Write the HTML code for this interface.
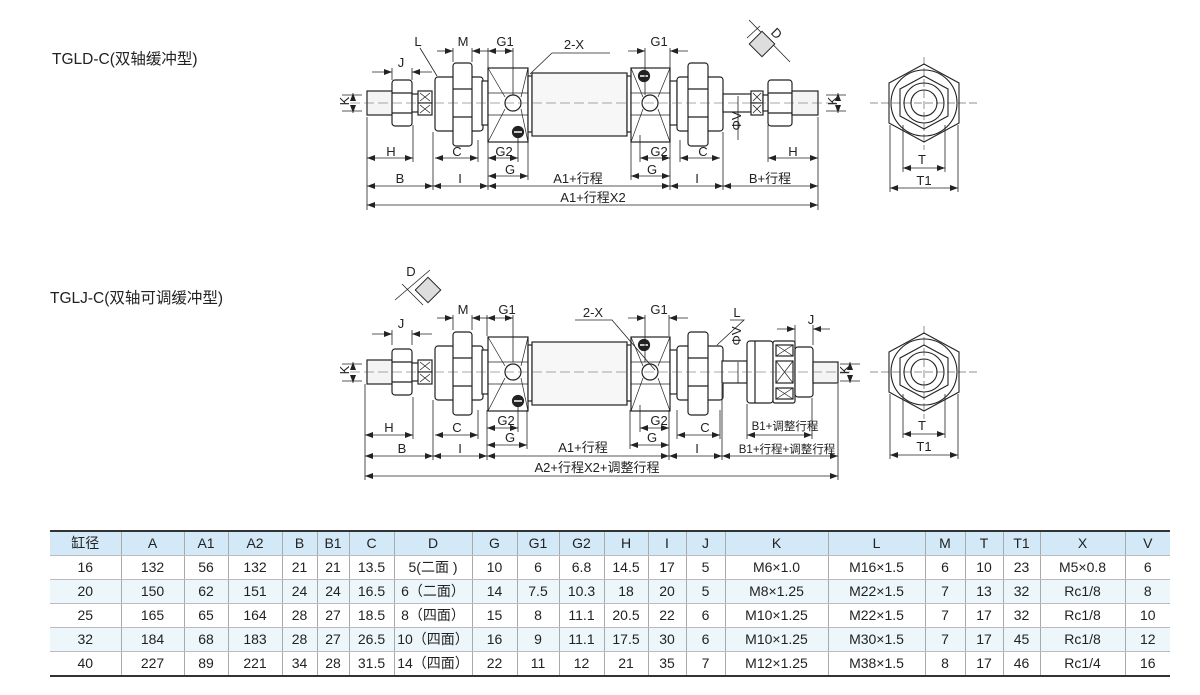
<!DOCTYPE html>
<html><head><meta charset="utf-8"><style>
body{margin:0;background:#fff;width:1200px;height:695px;overflow:hidden;position:relative;font-family:"Liberation Sans","Noto Sans CJK SC",sans-serif}
svg{position:absolute;left:0;top:0}
table{position:absolute;left:50px;top:530px;border-collapse:collapse;table-layout:fixed;width:1120px;font-size:14px;color:#222}
td{height:23px;line-height:23px;padding:0;text-align:center;vertical-align:middle;border-left:1px solid #aaa;border-bottom:1px solid #bbb;white-space:nowrap;overflow:hidden}
td:first-child{border-left:none}
tr.h td{background:#d3e9f7;border-top:2px solid #333;height:23px}
tr.a td{background:#edf6fb}
tr.last td{border-bottom:2px solid #333}
</style></head><body>
<svg width="1200" height="695" viewBox="0 0 1200 695" font-family="Liberation Sans, Noto Sans CJK SC, sans-serif" font-size="13" fill="#222">
<defs>
<marker id="ar" markerWidth="8" markerHeight="6" refX="8" refY="3" orient="auto-start-reverse" markerUnits="userSpaceOnUse"><path d="M0,0 L8,3 L0,6z" fill="#222"/></marker>
<g id="mid" stroke="#222" stroke-width="1.2" fill="#fff">
<rect x="367" y="-12" width="28" height="24" fill="#f4f4f4"/>
<rect x="392" y="-23" width="20" height="46" rx="3"/><line x1="392" y1="-10" x2="412" y2="-10"/><line x1="392" y1="10" x2="412" y2="10"/>
<rect x="412" y="-9" width="7" height="18"/>
<rect x="418" y="-12" width="14" height="12"/><rect x="418" y="0" width="14" height="12"/>
<path d="M420,-10 L430,-2 M430,-10 L420,-2 M420,2 L430,10 M430,2 L420,10" stroke-width="0.8"/>
<rect x="435" y="-26" width="48" height="54" rx="3"/>
<rect x="453" y="-40" width="19" height="83" rx="3"/><line x1="453" y1="-14" x2="472" y2="-14"/><line x1="453" y1="14" x2="472" y2="14"/>
<rect x="482" y="-22" width="6" height="44"/>
<rect x="488" y="-35" width="40" height="74"/>
<path d="M488,-35 L505,-6 M528,-35 L521,-6 M488,39 L505,6 M528,39 L521,6 M488,-10 L528,-10 M488,12 L528,12" stroke-width="0.7"/>
<circle cx="513" cy="0" r="8"/>
<circle cx="518" cy="29" r="5.5" fill="#222"/><line x1="514" y1="29" x2="522" y2="29" stroke="#fff" stroke-width="1.5"/>
<rect x="528" y="-27" width="4" height="56"/>
<rect x="532" y="-30" width="95" height="63" fill="#f7f7f7"/>
<rect x="627" y="-27" width="4" height="56"/>
<rect x="631" y="-35" width="39" height="74"/>
<path d="M631,-35 L643,-6 M670,-35 L658,-6 M631,39 L643,6 M670,39 L658,6 M631,-10 L670,-10 M631,12 L670,12" stroke-width="0.7"/>
<circle cx="650" cy="0" r="8"/>
<circle cx="644" cy="-27" r="5.5" fill="#222"/><line x1="640" y1="-27" x2="648" y2="-27" stroke="#fff" stroke-width="1.5"/>
<rect x="670" y="-22" width="7" height="44"/>
<rect x="677" y="-26" width="46" height="54" rx="3"/>
<rect x="688" y="-40" width="20" height="83" rx="3"/><line x1="688" y1="-14" x2="708" y2="-14"/><line x1="688" y1="14" x2="708" y2="14"/>
</g>
<g id="end" stroke="#222" stroke-width="1.1" fill="#fff">
<polygon points="924,-38 959,-19 959,21 924,40 889,21 889,-19"/>
<circle cx="924" cy="1" r="33"/>
<polygon points="924,-26 948,-13 948,14 924,27 900,14 900,-13"/>
<circle cx="924" cy="1" r="20"/><circle cx="924" cy="1" r="13"/>
<path d="M870,1 L980,1 M924,-45 L924,48" stroke-width="0.5" stroke-dasharray="8 3"/>
</g>
</defs>

<text x="52" y="64" font-size="15.5">TGLD-C(双轴缓冲型)</text>
<text x="50" y="303" font-size="15.5">TGLJ-C(双轴可调缓冲型)</text>

<use href="#mid" transform="translate(0,103)"/>
<g stroke="#222" stroke-width="1.2" fill="#fff">
<rect x="723" y="94" width="28" height="18"/>
<rect x="751" y="91" width="12" height="12"/><rect x="751" y="103" width="12" height="12"/>
<path d="M753,93 L761,101 M761,93 L753,101 M753,105 L761,113 M761,105 L753,113" stroke-width="0.8"/>
<rect x="768" y="80" width="24" height="46" rx="3"/><line x1="768" y1="93" x2="792" y2="93"/><line x1="768" y1="113" x2="792" y2="113"/>
<rect x="763" y="95" width="5" height="16"/>
<rect x="792" y="91" width="26" height="24" fill="#f4f4f4"/>
</g>
<line x1="350" y1="103" x2="838" y2="103" stroke="#555" stroke-width="0.6" stroke-dasharray="10 4"/>
<use href="#end" transform="translate(0,102)"/>
<g stroke="#222" stroke-width="0.8" fill="none">
<path d="M367,117 V210 M433,132 V190 M488,142 V190 M528,142 V180 M670,142 V190 M631,142 V180 M723,132 V190 M818,117 V210 M413,125 V162 M478,140 V162 M518,135 V162 M640,135 V162 M680,140 V162 M768,125 V162"/>
<line x1="367" y1="158" x2="413" y2="158" marker-start="url(#ar)" marker-end="url(#ar)"/>
<line x1="435" y1="158" x2="478" y2="158" marker-start="url(#ar)" marker-end="url(#ar)"/>
<line x1="488" y1="158" x2="518" y2="158" marker-start="url(#ar)" marker-end="url(#ar)"/>
<line x1="640" y1="158" x2="670" y2="158" marker-start="url(#ar)" marker-end="url(#ar)"/>
<line x1="680" y1="158" x2="720" y2="158" marker-start="url(#ar)" marker-end="url(#ar)"/>
<line x1="768" y1="158" x2="818" y2="158" marker-start="url(#ar)" marker-end="url(#ar)"/>
<line x1="488" y1="176" x2="528" y2="176" marker-start="url(#ar)" marker-end="url(#ar)"/>
<line x1="631" y1="176" x2="670" y2="176" marker-start="url(#ar)" marker-end="url(#ar)"/>
<line x1="367" y1="186" x2="433" y2="186" marker-start="url(#ar)" marker-end="url(#ar)"/>
<line x1="433" y1="186" x2="488" y2="186" marker-start="url(#ar)" marker-end="url(#ar)"/>
<line x1="488" y1="186" x2="670" y2="186" marker-start="url(#ar)" marker-end="url(#ar)"/>
<line x1="670" y1="186" x2="723" y2="186" marker-start="url(#ar)" marker-end="url(#ar)"/>
<line x1="723" y1="186" x2="818" y2="186" marker-start="url(#ar)" marker-end="url(#ar)"/>
<line x1="367" y1="205" x2="818" y2="205" marker-start="url(#ar)" marker-end="url(#ar)"/>
<path d="M392,68 V80 M412,68 V80 M453,48 V62 M472,48 V62 M488,48 V68 M513,48 V95 M645,48 V95 M670,48 V68"/>
<line x1="372" y1="72" x2="392" y2="72" marker-end="url(#ar)"/><line x1="432" y1="72" x2="412" y2="72" marker-end="url(#ar)"/>
<line x1="437" y1="51" x2="453" y2="51" marker-end="url(#ar)"/><line x1="488" y1="51" x2="472" y2="51" marker-end="url(#ar)"/>
<line x1="488" y1="51" x2="513" y2="51" marker-start="url(#ar)" marker-end="url(#ar)"/>
<line x1="628" y1="51" x2="645" y2="51" marker-end="url(#ar)"/><line x1="688" y1="51" x2="670" y2="51" marker-end="url(#ar)"/>
<path d="M420,48 L437,76 M552,53 L610,53 M552,53 L530,74 M342,95 H362 M342,111 H362 M826,95 H846 M826,111 H846 M738,96 V140"/>
<line x1="353" y1="98" x2="353" y2="93" marker-end="url(#ar)"/><line x1="353" y1="108" x2="353" y2="113" marker-end="url(#ar)"/>
<line x1="838" y1="98" x2="838" y2="93" marker-end="url(#ar)"/><line x1="838" y1="108" x2="838" y2="113" marker-end="url(#ar)"/>
<path d="M749,20 L790,62 M747,38 L760,26"/>
<path d="M903,125 V172 M945,125 V172 M890,125 V192 M958,125 V192"/>
<line x1="903" y1="168" x2="945" y2="168" marker-start="url(#ar)" marker-end="url(#ar)"/>
<line x1="890" y1="188" x2="958" y2="188" marker-start="url(#ar)" marker-end="url(#ar)"/>
</g>
<rect x="753" y="35" width="18" height="18" transform="rotate(45 762 44)" fill="#ddd" stroke="#222"/>
<g font-size="13" text-anchor="middle">
<text x="418" y="46">L</text><text x="463" y="46">M</text><text x="505" y="46">G1</text><text x="574" y="49">2-X</text><text x="659" y="46">G1</text>
<text x="401" y="67">J</text><text x="777" y="38" transform="rotate(45 777 33)">D</text>
<text x="346" y="108" transform="rotate(-90 344 103)">K</text><text x="834" y="108" transform="rotate(-90 832 103)">K</text>
<text x="740" y="130" transform="rotate(-90 736 125)">ΦV</text>
<text x="391" y="156">H</text><text x="457" y="156">C</text><text x="504" y="156">G2</text><text x="659" y="156">G2</text><text x="703" y="156">C</text><text x="793" y="156">H</text>
<text x="510" y="174">G</text><text x="652" y="174">G</text>
<text x="400" y="183">B</text><text x="460" y="183">I</text><text x="578" y="183">A1+行程</text><text x="697" y="183">I</text><text x="770" y="183">B+行程</text>
<text x="593" y="202">A1+行程X2</text>
<text x="922" y="164">T</text><text x="924" y="185">T1</text>
</g>

<use href="#mid" transform="translate(0,372)"/>
<g stroke="#222" stroke-width="1.2" fill="#fff">
<rect x="722" y="361" width="25" height="22"/>
<rect x="747" y="341" width="26" height="62" rx="3"/><line x1="755" y1="341" x2="755" y2="403"/>
<rect x="773" y="341" width="22" height="62" rx="2"/>
<rect x="776" y="345" width="17" height="11"/><rect x="776" y="361" width="17" height="22"/><rect x="776" y="388" width="17" height="11"/>
<path d="M776,345 L793,356 M793,345 L776,356 M776,361 L793,383 M793,361 L776,383 M776,388 L793,399 M793,388 L776,399" stroke-width="0.7"/>
<rect x="795" y="347" width="18" height="50" rx="3"/>
<rect x="813" y="362" width="25" height="21" fill="#f4f4f4"/>
</g>
<line x1="350" y1="372" x2="850" y2="372" stroke="#555" stroke-width="0.6" stroke-dasharray="10 4"/>
<use href="#end" transform="translate(0,371)"/>
<g stroke="#222" stroke-width="0.8" fill="none">
<path d="M365,384 V480 M433,400 V460 M487,410 V460 M527,410 V449 M669,410 V460 M630,410 V449 M722,384 V460 M838,384 V480 M413,397 V439 M478,410 V439 M518,405 V432 M640,405 V432 M677,410 V439 M720,410 V439 M747,404 V439 M812,398 V439"/>
<line x1="365" y1="435" x2="413" y2="435" marker-start="url(#ar)" marker-end="url(#ar)"/>
<line x1="435" y1="435" x2="478" y2="435" marker-start="url(#ar)" marker-end="url(#ar)"/>
<line x1="487" y1="428" x2="518" y2="428" marker-start="url(#ar)" marker-end="url(#ar)"/>
<line x1="640" y1="428" x2="669" y2="428" marker-start="url(#ar)" marker-end="url(#ar)"/>
<line x1="677" y1="435" x2="720" y2="435" marker-start="url(#ar)" marker-end="url(#ar)"/>
<line x1="747" y1="435" x2="812" y2="435" marker-start="url(#ar)" marker-end="url(#ar)"/>
<line x1="487" y1="445" x2="527" y2="445" marker-start="url(#ar)" marker-end="url(#ar)"/>
<line x1="630" y1="445" x2="669" y2="445" marker-start="url(#ar)" marker-end="url(#ar)"/>
<line x1="365" y1="456" x2="433" y2="456" marker-start="url(#ar)" marker-end="url(#ar)"/>
<line x1="433" y1="456" x2="487" y2="456" marker-start="url(#ar)" marker-end="url(#ar)"/>
<line x1="487" y1="456" x2="669" y2="456" marker-start="url(#ar)" marker-end="url(#ar)"/>
<line x1="669" y1="456" x2="722" y2="456" marker-start="url(#ar)" marker-end="url(#ar)"/>
<line x1="722" y1="456" x2="838" y2="456" marker-start="url(#ar)" marker-end="url(#ar)"/>
<line x1="365" y1="476" x2="838" y2="476" marker-start="url(#ar)" marker-end="url(#ar)"/>
<path d="M392,330 V345 M412,330 V345 M453,315 V330 M472,315 V330 M487,315 V336 M513,315 V362 M645,315 V362 M669,315 V336 M795,325 V345 M813,325 V345"/>
<line x1="372" y1="334" x2="392" y2="334" marker-end="url(#ar)"/><line x1="432" y1="334" x2="412" y2="334" marker-end="url(#ar)"/>
<line x1="437" y1="318" x2="453" y2="318" marker-end="url(#ar)"/><line x1="488" y1="318" x2="472" y2="318" marker-end="url(#ar)"/>
<line x1="487" y1="318" x2="513" y2="318" marker-start="url(#ar)" marker-end="url(#ar)"/>
<line x1="628" y1="318" x2="645" y2="318" marker-end="url(#ar)"/><line x1="688" y1="318" x2="669" y2="318" marker-end="url(#ar)"/>
<line x1="777" y1="329" x2="795" y2="329" marker-end="url(#ar)"/><line x1="830" y1="329" x2="813" y2="329" marker-end="url(#ar)"/>
<path d="M575,320 L612,320 L655,370 M730,320 L744,320 L717,345 M342,364 H362 M342,381 H362 M840,364 H860 M840,381 H860 M738,362 V383"/>
<line x1="353" y1="367" x2="353" y2="362" marker-end="url(#ar)"/><line x1="353" y1="378" x2="353" y2="383" marker-end="url(#ar)"/>
<line x1="850" y1="367" x2="850" y2="362" marker-end="url(#ar)"/><line x1="850" y1="378" x2="850" y2="383" marker-end="url(#ar)"/>
<path d="M395,300 L430,270 M402,284 L423,305"/>
<path d="M903,394 V438 M945,394 V438 M890,394 V459 M958,394 V459"/>
<line x1="903" y1="434" x2="945" y2="434" marker-start="url(#ar)" marker-end="url(#ar)"/>
<line x1="890" y1="455" x2="958" y2="455" marker-start="url(#ar)" marker-end="url(#ar)"/>
</g>
<rect x="419" y="281" width="18" height="18" transform="rotate(45 428 290)" fill="#ddd" stroke="#222"/>
<g font-size="13" text-anchor="middle">
<text x="411" y="276">D</text>
<text x="463" y="314">M</text><text x="507" y="314">G1</text><text x="593" y="317">2-X</text><text x="659" y="314">G1</text><text x="737" y="317">L</text>
<text x="401" y="328">J</text><text x="811" y="324">J</text>
<text x="346" y="377" transform="rotate(-90 344 372)">K</text><text x="846" y="377" transform="rotate(-90 844 372)">K</text>
<text x="740" y="345" transform="rotate(-90 736 340)">ΦV</text>
<text x="389" y="432">H</text><text x="457" y="432">C</text><text x="506" y="425">G2</text><text x="659" y="425">G2</text><text x="705" y="432">C</text>
<text x="510" y="442">G</text><text x="652" y="442">G</text>
<text x="785" y="430" font-size="11.5">B1+调整行程</text>
<text x="402" y="453">B</text><text x="460" y="453">I</text><text x="583" y="452">A1+行程</text><text x="697" y="453">I</text>
<text x="787" y="453" font-size="11.5">B1+行程+调整行程</text>
<text x="597" y="472">A2+行程X2+调整行程</text>
<text x="922" y="430">T</text><text x="924" y="451">T1</text>
</g>
</svg>

<table>
<colgroup><col style="width:71px"><col style="width:63px"><col style="width:44px"><col style="width:54px"><col style="width:35px"><col style="width:32px"><col style="width:45px"><col style="width:78px"><col style="width:45px"><col style="width:42px"><col style="width:45px"><col style="width:44px"><col style="width:38px"><col style="width:39px"><col style="width:103px"><col style="width:97px"><col style="width:40px"><col style="width:38px"><col style="width:37px"><col style="width:85px"><col style="width:45px"></colgroup>
<tr class="h"><td>缸径</td><td>A</td><td>A1</td><td>A2</td><td>B</td><td>B1</td><td>C</td><td>D</td><td>G</td><td>G1</td><td>G2</td><td>H</td><td>I</td><td>J</td><td>K</td><td>L</td><td>M</td><td>T</td><td>T1</td><td>X</td><td>V</td></tr>
<tr><td>16</td><td>132</td><td>56</td><td>132</td><td>21</td><td>21</td><td>13.5</td><td>5(二面 )</td><td>10</td><td>6</td><td>6.8</td><td>14.5</td><td>17</td><td>5</td><td>M6×1.0</td><td>M16×1.5</td><td>6</td><td>10</td><td>23</td><td>M5×0.8</td><td>6</td></tr>
<tr class="a"><td>20</td><td>150</td><td>62</td><td>151</td><td>24</td><td>24</td><td>16.5</td><td>6（二面）</td><td>14</td><td>7.5</td><td>10.3</td><td>18</td><td>20</td><td>5</td><td>M8×1.25</td><td>M22×1.5</td><td>7</td><td>13</td><td>32</td><td>Rc1/8</td><td>8</td></tr>
<tr><td>25</td><td>165</td><td>65</td><td>164</td><td>28</td><td>27</td><td>18.5</td><td>8（四面）</td><td>15</td><td>8</td><td>11.1</td><td>20.5</td><td>22</td><td>6</td><td>M10×1.25</td><td>M22×1.5</td><td>7</td><td>17</td><td>32</td><td>Rc1/8</td><td>10</td></tr>
<tr class="a"><td>32</td><td>184</td><td>68</td><td>183</td><td>28</td><td>27</td><td>26.5</td><td>10（四面）</td><td>16</td><td>9</td><td>11.1</td><td>17.5</td><td>30</td><td>6</td><td>M10×1.25</td><td>M30×1.5</td><td>7</td><td>17</td><td>45</td><td>Rc1/8</td><td>12</td></tr>
<tr class="last"><td>40</td><td>227</td><td>89</td><td>221</td><td>34</td><td>28</td><td>31.5</td><td>14（四面）</td><td>22</td><td>11</td><td>12</td><td>21</td><td>35</td><td>7</td><td>M12×1.25</td><td>M38×1.5</td><td>8</td><td>17</td><td>46</td><td>Rc1/4</td><td>16</td></tr>
</table>
</body></html>
